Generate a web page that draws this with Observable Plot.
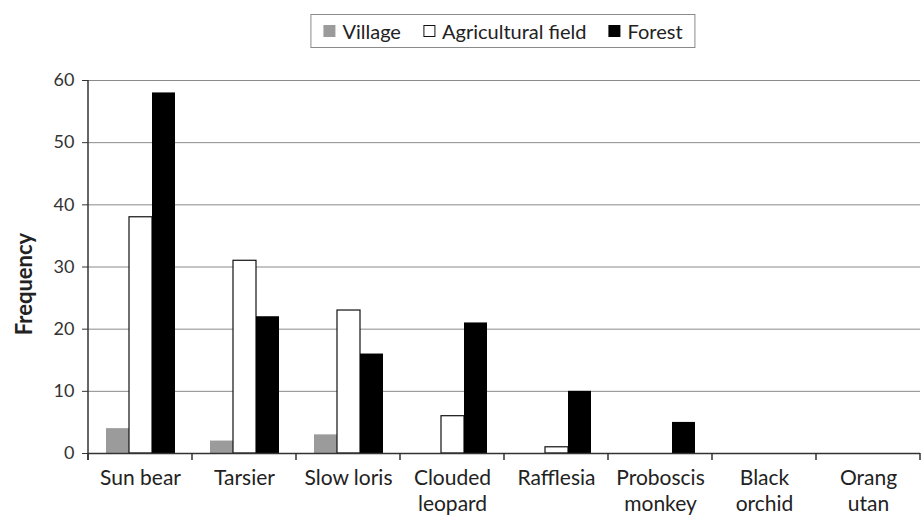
<!DOCTYPE html>
<html>
<head>
<meta charset="utf-8">
<script src="https://cdn.jsdelivr.net/npm/d3@7"></script>
<script src="https://cdn.jsdelivr.net/npm/@observablehq/plot@0.6"></script>
<style>
  body { margin: 0; background: #fff; }
  #wrap { position: relative; width: 921px; height: 519px; font-family: Lato, "Open Sans", sans-serif; color: #222; }
  #legend { position: absolute; top: 14px; left: 503px; transform: translateX(-50%); border: 1px solid #8a8a8a; height: 34px; box-sizing: border-box; display: flex; align-items: center; padding: 0 12px; font-size: 20px; white-space: nowrap; }
  .item { display: flex; align-items: center; margin-right: 22px; }
  .item:last-child { margin-right: 0; }
  .sw { width: 12px; height: 12px; margin-right: 7px; box-sizing: border-box; }
  #chart { position: absolute; top: 55px; left: 0; }
</style>
</head>
<body>
<div id="wrap">
  <div id="legend"></div>
  <div id="chart"></div>
</div>
<script>
const categories = ["Sun bear", "Tarsier", "Slow loris", "Clouded leopard", "Rafflesia", "Proboscis monkey", "Black orchid", "Orang utan"];
const tickLabels = ["Sun bear", "Tarsier", "Slow loris", "Clouded\nleopard", "Rafflesia", "Proboscis\nmonkey", "Black\norchid", "Orang\nutan"];
const habitats = ["Village", "Agricultural field", "Forest"];
const village = [4, 2, 3, 0, 0, 0, 0, 0];
const agricultural = [38, 31, 23, 6, 1, 0, 0, 0];
const forest = [58, 22, 16, 21, 10, 5, 0, 0];
const yTicks = [0, 10, 20, 30, 40, 50, 60];

const fills = {"Village": "#9b9b9b", "Agricultural field": "#ffffff", "Forest": "#000000"};
const strokes = {"Village": "none", "Agricultural field": "#111", "Forest": "none"};

const series = [village, agricultural, forest];
const data = [];
categories.forEach((c, i) => {
  habitats.forEach((h, j) => data.push({category: c, habitat: h, value: series[j][i]}));
});

const legend = document.getElementById("legend");
habitats.forEach(h => {
  const it = document.createElement("div");
  it.className = "item";
  const sw = document.createElement("div");
  sw.className = "sw";
  sw.style.background = fills[h];
  sw.style.border = h === "Agricultural field" ? "1px solid #111" : "none";
  const t = document.createElement("span");
  t.textContent = h;
  it.appendChild(sw); it.appendChild(t);
  legend.appendChild(it);
});

const marginLeft = 88, marginBottom = 66, marginTop = 25, marginRight = 1;
const barMark = h => Plot.barY(data, {
  filter: d => d.habitat === h && d.value > 0,
  fx: "category", x: "habitat", y: "value",
  fill: fills[h], stroke: strokes[h], strokeWidth: 1.2
});

const plot = Plot.plot({
  width: 921, height: 464,
  marginLeft, marginRight, marginTop, marginBottom,
  style: {fontFamily: "Lato, 'Open Sans', sans-serif", fontSize: "18px", color: "#222", background: "transparent"},
  fx: {domain: categories, paddingInner: 0, paddingOuter: 0, label: null},
  x: {domain: habitats, paddingInner: 0, paddingOuter: 0.76, axis: null},
  y: {domain: [0, 60], label: null},
  marks: [
    Plot.gridY(yTicks.filter(d => d > 0), {stroke: "#8a8a8a", strokeOpacity: 1}),
    barMark("Village"),
    barMark("Agricultural field"),
    barMark("Forest"),
    Plot.ruleY([0], {stroke: "#333", strokeWidth: 1.5}),
    Plot.axisY({ticks: yTicks, tickSize: 6, tickPadding: 8, label: null, stroke: "#333", fontSize: 18, fill: "#333"}),
    Plot.axisFx({anchor: "bottom", tickSize: 0, tickPadding: 13, label: null, lineHeight: 1.24, fontSize: 21, fill: "#222",
      tickFormat: d => tickLabels[categories.indexOf(d)]}),
    Plot.text(["Frequency"], {fx: ["Sun bear"], frameAnchor: "left", textAnchor: "middle", rotate: -90, dx: -64, dy: 17,
      text: d => d, fontWeight: "bold", fontSize: 22, fill: "#222"})
  ]
});
document.getElementById("chart").appendChild(plot);

// axis line and category boundary ticks, placed with the plot's own scales
const fx = plot.scale("fx");
const y = plot.scale("y");
const svg = d3.select(plot);
const y0 = y.apply(0), y60 = y.apply(60);
svg.append("line").attr("x1", marginLeft).attr("x2", marginLeft).attr("y1", y60).attr("y2", y0 + 7)
  .attr("stroke", "#333").attr("stroke-width", 1.5);
const bounds = categories.map(c => fx.apply(c)).concat([fx.apply(categories[categories.length - 1]) + fx.bandwidth]);
bounds.forEach(b => {
  svg.append("line").attr("x1", b).attr("x2", b).attr("y1", y0).attr("y2", y0 + 7)
    .attr("stroke", "#333").attr("stroke-width", 1.5);
});
</script>
</body>
</html>
